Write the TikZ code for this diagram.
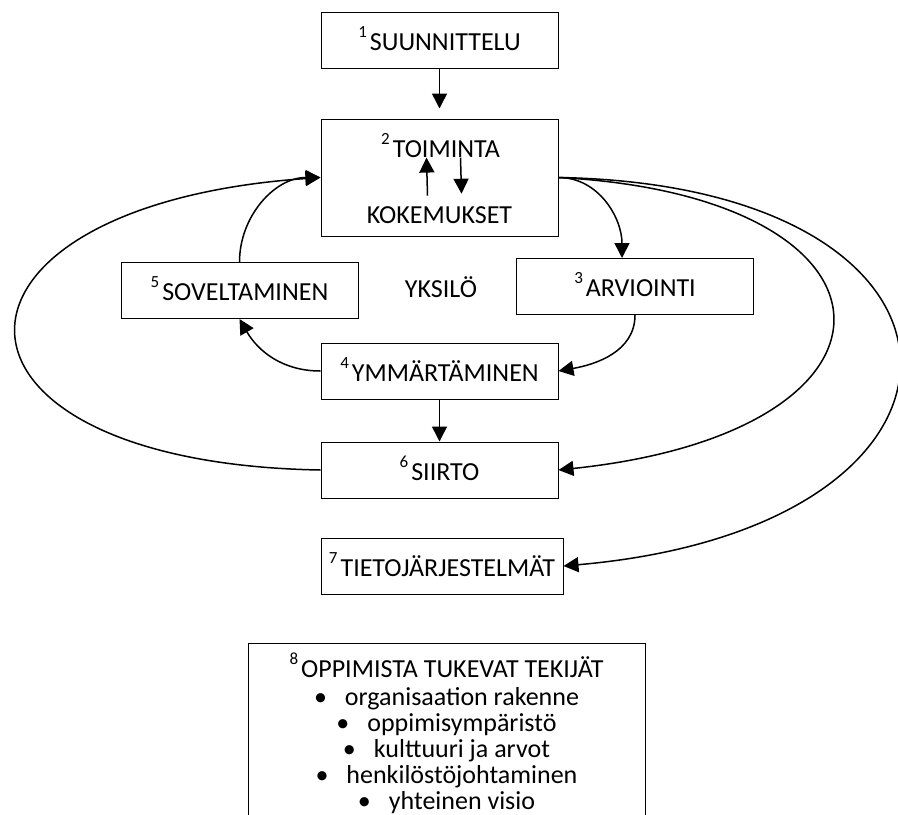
\documentclass[tikz,border=0pt]{standalone}
\usepackage{fontspec}
\setmainfont{Carlito}
\usepackage{tikz}
\usetikzlibrary{arrows.meta, positioning}

\newcommand{\nr}[1]{\raisebox{6.5pt}{\fontsize{8.5}{9}\selectfont #1}\kern1.5pt}

\begin{document}
\begin{tikzpicture}[x=0.5pt, y=0.5pt, font=\fontsize{13}{13}\selectfont,
    box/.style={draw, line width=0.5pt, minimum width=118.5pt, minimum height=28pt, text height=10pt, text depth=0pt, inner sep=0pt},
    lbl/.style={inner sep=0pt, anchor=base},
    arr/.style={-{Triangle[length=7.5pt, width=7.5pt]}, line width=0.75pt}]
    \clip (0,0) rectangle (898,-814);
    % column of steps
    \node[box] (s1) at (439.5,-40) {\nr{1}SUUNNITTELU};
    \node[box, minimum height=58.5pt] (s2) [below = 25pt of s1] {};
    \node[lbl] (toim) at (440.5,-157) {\nr{2}TOIMINTA};
    \node[lbl] (kok) at (439.5,-223) {KOKEMUKSET};
    \node[box] (s4) [below = 53pt of s2] {\nr{4}YMMÄRTÄMINEN};
    \node[box] (s6) [below = 21pt of s4] {\nr{6}SIIRTO};
    \node[box, minimum width=121pt] (s7) [below = 19.5pt of s6, xshift=1.25pt] {\nr{7}TIETOJÄRJESTELMÄT};
    % side steps
    \node[box] (s3) at (635,-286.5) {\nr{3}ARVIOINTI};
    \node[box] (s5) at (239.5,-290.5) {\nr{5}SOVELTAMINEN};
    \node[lbl] (yks) at (441,-297.5) {YKSILÖ};
    % supporting factors
    \node[draw, line width=0.5pt, align=center, minimum width=198.5pt, inner xsep=0pt, inner ysep=5pt] (s8) [below = 24pt of s7, xshift=2.25pt]
        {\nr{8}OPPIMISTA TUKEVAT TEKIJÄT\\[1pt]
         \textbullet\hspace{9pt}organisaation rakenne\\
         \textbullet\hspace{9pt}oppimisympäristö\\
         \textbullet\hspace{9pt}kulttuuri ja arvot\\
         \textbullet\hspace{9pt}henkilöstöjohtaminen\\
         \textbullet\hspace{9pt}yhteinen visio\rule[-15pt]{0pt}{0pt}};

    \path[arr] (s1) edge [shorten >=5pt] (s2);
    \path[arr] ([xshift=-6pt, yshift=5pt]kok.north) edge ([xshift=-7pt]toim.south);
    \path[arr] ([xshift=10pt]toim.south) edge ([xshift=11pt, yshift=6pt]kok.north);
    \path[arr] (s2.east) edge [out=0, in=90] ([xshift=-6.5pt]s3.north);
    \path[arr] (s3.south) edge [out=-90, in=10] (s4.east);
    \path[arr] (s4.west) edge [out=180, in=-60] (s5.south);
    \path[arr] (s5.north) edge [out=90, in=180] (s2.west);
    \path[arr] (s4) edge (s6);
    \path[arr] (s2.east) edge [out=-3, in=6, out distance=180pt, in distance=186pt] (s6.east);
    \path[arr] (s2.east) edge [out=-1, in=5, out distance=225pt, in distance=226pt] (s7.east);
    \path[arr] (s6.west) edge [out=179, in=184, out distance=203pt, in distance=203pt] (s2.west);
\end{tikzpicture}
\end{document}
